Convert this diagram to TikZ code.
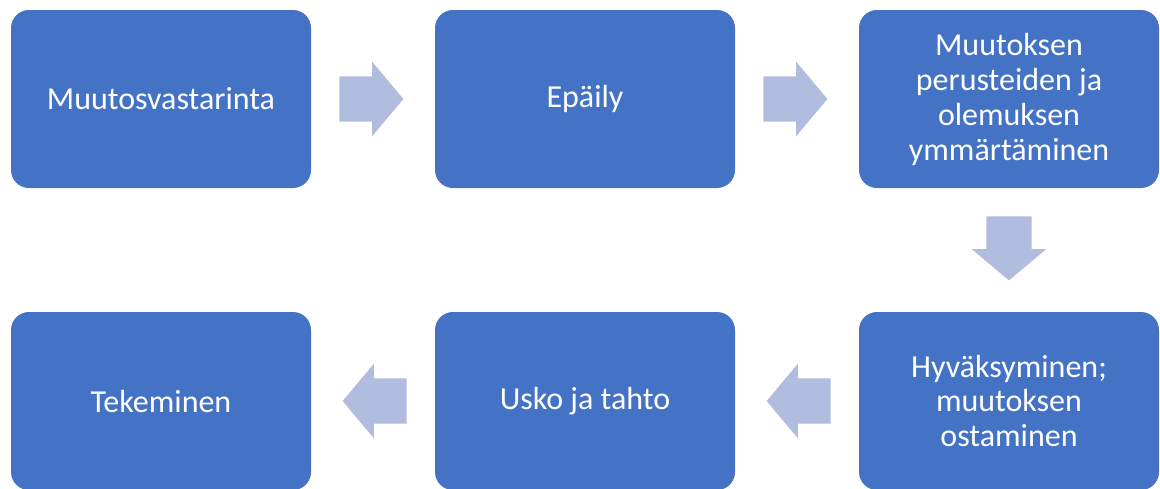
\documentclass[tikz,border=0pt]{standalone}
\usepackage{fontspec}
\setmainfont{Carlito}
\usetikzlibrary{shapes.arrows,calc}
\definecolor{boxblue}{HTML}{4472C4}
\definecolor{arrowblue}{HTML}{B0BDDF}

\begin{document}
\begin{tikzpicture}[x=1pt,y=-1pt]
    \tikzset{phase/.style = {rectangle,rounded corners=18pt,fill=boxblue,text=white,
        minimum width=300pt,minimum height=178pt,inner sep=0pt,align=center,
        font=\fontsize{32}{35}\selectfont}}
    \tikzset{flow/.style = {single arrow,fill=arrowblue,inner xsep=0pt,inner ysep=22.5pt,
        minimum height=64pt,single arrow head extend=14.5pt,
        single arrow tip angle=100,single arrow head indent=0pt,anchor=tail}}
    \useasboundingbox (0,0) rectangle (1160,488);
    % phases
    \node[phase] (1) at (161,99) {Muutosvastarinta};
    \node[phase] (2) at (585,99) {Epäily};
    \node[phase] (3) at (1009,99) {Muutoksen\\perusteiden ja\\olemuksen\\ymmärtäminen};
    \node[phase] (4) at (1009,401) {Hyväksyminen;\\muutoksen\\ostaminen};
    \node[phase] (5) at (585,401) {Usko ja tahto};
    \node[phase] (6) at (161,401) {Tekeminen};
    % arrows
    \node[flow] (12) at ($(1.east)+(28,0)$) {};
    \node[flow] (23) at ($(2.east)+(28,0)$) {};
    \node[flow,rotate=-90] (34) at ($(3.south)+(0,28)$) {};
    \node[flow,rotate=180] (45) at ($(4.west)+(-28,0)$) {};
    \node[flow,rotate=180] (56) at ($(5.west)+(-28,0)$) {};
\end{tikzpicture}
\end{document}
